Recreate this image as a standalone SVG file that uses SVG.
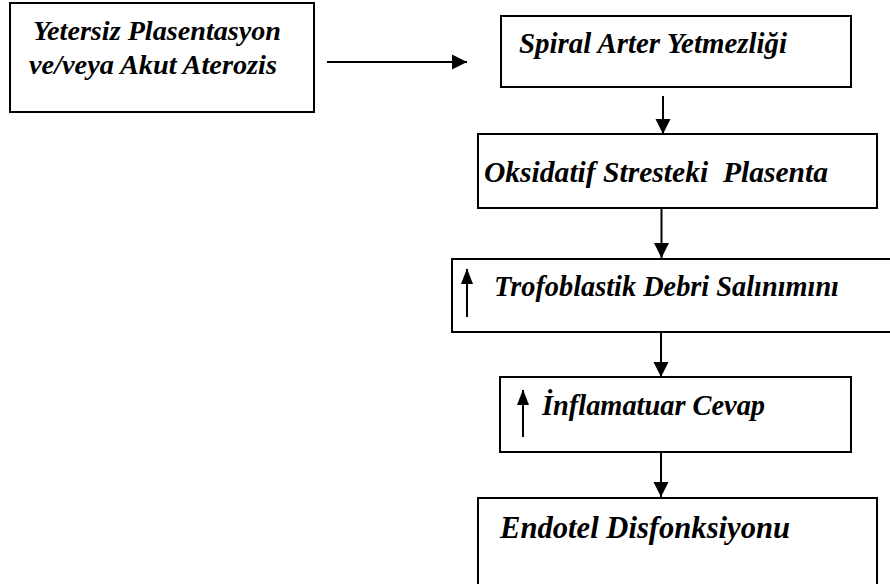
<svg xmlns="http://www.w3.org/2000/svg" width="890" height="584" viewBox="0 0 890 584">
<style>
.box{fill:#fff;stroke:#000;stroke-width:2}
.lbl{font-family:"Liberation Serif","Times New Roman",serif;font-weight:bold;font-style:italic;fill:#000;white-space:pre}
.con{stroke:#000;stroke-width:2;fill:none}
</style>
<defs>
<marker id="ah" markerUnits="userSpaceOnUse" markerWidth="16" markerHeight="16" viewBox="0 0 16 16" refX="15" refY="8" orient="auto">
<path d="M0,0.5 L15,8 L0,15.5 Z" fill="#000"/>
</marker>
<marker id="up" markerUnits="userSpaceOnUse" markerWidth="16" markerHeight="14" viewBox="0 0 16 14" refX="15" refY="7" orient="auto">
<path d="M0,1 L15.5,7 L0,13 Z" fill="#000"/>
</marker>
</defs>
<rect width="890" height="584" fill="#fff"/>
<g id="connectors">
<line class="con" x1="327" y1="62" x2="467" y2="62" marker-end="url(#ah)"/>
<line class="con" x1="663" y1="96" x2="663" y2="134" marker-end="url(#ah)"/>
<line class="con" x1="661.5" y1="208" x2="661.5" y2="258" marker-end="url(#ah)"/>
<line class="con" x1="661" y1="332" x2="661" y2="377" marker-end="url(#ah)"/>
<line class="con" x1="661" y1="452" x2="661" y2="497" marker-end="url(#ah)"/>
</g>
<g id="n1">
<rect class="box" x="10" y="3" width="304" height="109"/>
<text class="lbl" x="33" y="40" font-size="27" textLength="248" lengthAdjust="spacingAndGlyphs">Yetersiz Plasentasyon</text>
<text class="lbl" x="29" y="73.5" font-size="27" textLength="248" lengthAdjust="spacingAndGlyphs">ve/veya Akut Aterozis</text>
</g>
<g id="n2">
<rect class="box" x="501" y="16" width="350" height="71"/>
<text class="lbl" x="519" y="53" font-size="30" textLength="268" lengthAdjust="spacingAndGlyphs">Spiral Arter Yetmezliği</text>
</g>
<g id="n3">
<rect class="box" x="478" y="134" width="399" height="74"/>
<text class="lbl" x="484" y="182" font-size="30" textLength="344" lengthAdjust="spacingAndGlyphs" xml:space="preserve">Oksidatif Stresteki  Plasenta</text>
</g>
<g id="n4">
<rect class="box" x="452" y="259" width="445" height="73"/>
<line class="con" x1="467" y1="317" x2="467" y2="269" marker-end="url(#up)"/>
<text class="lbl" x="494" y="296" font-size="29" textLength="345" lengthAdjust="spacingAndGlyphs">Trofoblastik Debri Salınımını</text>
</g>
<g id="n5">
<rect class="box" x="500" y="377" width="351" height="75"/>
<line class="con" x1="523" y1="437" x2="523" y2="390" marker-end="url(#up)"/>
<text class="lbl" x="542" y="415" font-size="29" textLength="223" lengthAdjust="spacingAndGlyphs">İnflamatuar Cevap</text>
</g>
<g id="n6">
<rect class="box" x="478" y="498" width="399" height="90"/>
<text class="lbl" x="500" y="537.5" font-size="32" textLength="290" lengthAdjust="spacingAndGlyphs">Endotel Disfonksiyonu</text>
</g>
</svg>
